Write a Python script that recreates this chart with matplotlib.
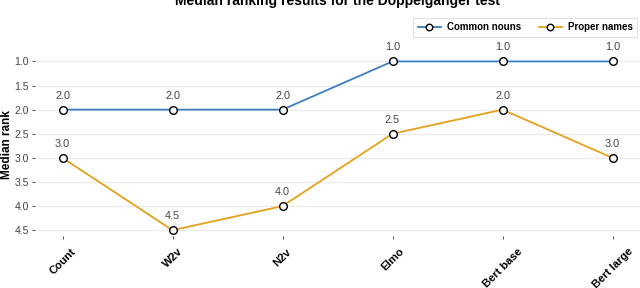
import matplotlib
matplotlib.use("Agg")
import matplotlib.pyplot as plt

plt.rcParams['font.family'] = ['Liberation Sans', 'DejaVu Sans']

models = ["Count", "W2v", "N2v", "Elmo", "Bert base", "Bert large"]
common_nouns = [2.0, 2.0, 2.0, 1.0, 1.0, 1.0]
proper_names = [3.0, 4.5, 4.0, 2.5, 2.0, 3.0]
yticks = [1.0, 1.5, 2.0, 2.5, 3.0, 3.5, 4.0, 4.5]

blue = '#3D7EBE'
orange = '#E5A11C'

fig = plt.figure(figsize=(6.4, 2.88), dpi=100)
ax = fig.add_axes([35/640, 52/288, 605/640, 218/288])

x = list(range(len(models)))
for vals, col, lab in [(common_nouns, blue, "Common nouns"),
                       (proper_names, orange, "Proper names")]:
    ax.plot(x, vals, color=col, lw=1.3, marker='o', markersize=5.5,
            markerfacecolor='white', markeredgecolor='black', mew=1.0,
            label=lab, zorder=3)
    for xi, v in zip(x, vals):
        ax.annotate(f"{v:.1f}", (xi, v), xytext=(0, 6.5), textcoords='offset points',
                    ha='center', va='bottom', fontsize=7.8, color='#444444')

ax.set_xlim(-0.25, 5.25)
ax.set_ylim(4.62, 0.1)
ax.set_yticks(yticks)
ax.set_yticklabels([f"{t:.1f}" for t in yticks], fontsize=7.5, color='#444444')
ax.set_xticks(x)
ax.set_xticklabels(models, rotation=45, ha='center', va='top',
                   fontsize=8, fontweight='bold')
ax.tick_params(axis='x', length=2.5, width=0.6, color='#333333', pad=5)
ax.tick_params(axis='y', length=2.5, width=0.6, color='#333333', pad=2)
ax.grid(axis='y', color='#EBEBEB', lw=0.9)
ax.set_axisbelow(True)
for s in ax.spines.values():
    s.set_visible(False)

ax.set_ylabel("Median rank", fontsize=8.5, fontweight='bold')
ax.yaxis.set_label_coords(-0.037, 0.42)

leg = ax.legend(loc='upper right', ncol=2, bbox_to_anchor=(0.995, 1.0),
                borderaxespad=0.0,
                prop={'weight': 'bold', 'size': 7}, frameon=True,
                fancybox=False, edgecolor='#DDDDDD', handlelength=2.4,
                handletextpad=0.6, columnspacing=1.8, borderpad=0.45,
                markerscale=0.85)
leg.get_frame().set_linewidth(0.8)

fig.text(0.527, 1 - 5/288, "Median ranking results for the Doppelganger test",
         ha='center', va='baseline', fontsize=10, fontweight='bold')

fig.savefig("out.png", dpi=100)
